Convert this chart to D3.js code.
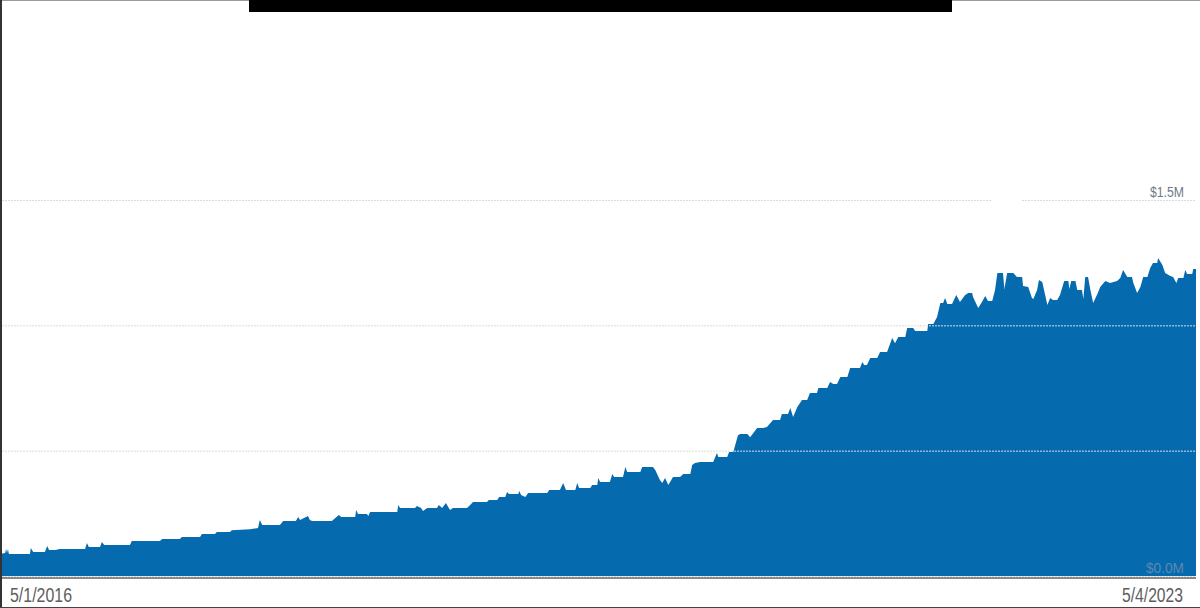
<!DOCTYPE html>
<html><head><meta charset="utf-8">
<script src="https://cdn.jsdelivr.net/npm/d3@7"></script>
<style>html,body{margin:0;padding:0;background:#fff;overflow:hidden}svg{display:block}</style>
</head><body>
<svg id="chart" width="1200" height="608"></svg>
<script>
// Days since 5/1/2016
const dayOffsets = [0,11,13,15,17,19,64,66,71,96,101,105,118,128,182,186,190,214,218,223,278,282,342,347,385,389,428,432,460,464,492,496,535,552,556,561,599,606,633,638,642,659,663,668,710,715,725,730,760,762,766,785,788,792,850,852,856,888,892,901,905,914,935,939,946,954,963,969,999,1004,1012,1042,1046,1064,1068,1081,1085,1089,1109,1111,1115,1124,1130,1171,1175,1198,1205,1211,1231,1235,1239,1263,1267,1278,1280,1284,1305,1310,1314,1333,1338,1342,1370,1374,1397,1402,1412,1417,1423,1430,1440,1455,1462,1477,1481,1487,1498,1526,1534,1537,1556,1560,1569,1579,1584,1599,1605,1620,1633,1641,1654,1669,1673,1686,1691,1697,1706,1716,1727,1733,1748,1751,1770,1776,1783,1791,1798,1813,1819,1840,1845,1849,1855,1862,1877,1883,1898,1909,1915,1922,1937,1941,1954,1958,1984,1986,1997,2005,2012,2018,2022,2027,2037,2046,2054,2065,2072,2080,2082,2093,2101,2108,2114,2123,2129,2134,2146,2149,2155,2168,2176,2187,2189,2200,2208,2211,2219,2223,2230,2241,2247,2253,2262,2268,2277,2286,2288,2292,2301,2305,2315,2318,2322,2328,2333,2339,2348,2354,2365,2375,2390,2397,2403,2412,2422,2425,2433,2440,2446,2455,2461,2467,2476,2478,2487,2493,2504,2510,2517,2521,2532,2536,2540,2551,2553,2559];
// Value in $ thousands
const valuesK = [88,92,108,92,108,88,88,112,96,96,120,104,104,108,108,132,116,116,136,124,124,140,140,148,148,156,156,168,168,176,176,183,187,191,223,203,203,219,219,235,223,239,223,219,219,227,243,235,235,263,247,247,239,255,255,283,271,271,279,271,259,271,271,283,271,291,263,271,271,279,295,295,303,303,315,315,335,327,327,339,323,315,331,331,343,343,371,343,343,371,351,351,363,363,391,375,375,407,395,395,435,415,415,435,435,423,383,371,391,363,395,395,407,407,443,451,455,455,491,475,475,495,495,562,566,566,554,590,590,594,622,622,646,646,670,634,674,702,702,730,730,750,750,774,766,766,794,794,830,830,854,842,842,870,870,894,894,949,929,953,953,989,989,977,977,1005,1005,1033,1089,1089,1109,1085,1085,1121,1093,1121,1129,1129,1113,1069,1093,1117,1097,1097,1141,1209,1209,1145,1209,1209,1193,1193,1157,1153,1109,1105,1141,1181,1173,1081,1109,1101,1101,1121,1177,1177,1145,1177,1177,1141,1141,1105,1193,1193,1141,1089,1125,1153,1177,1169,1177,1189,1221,1193,1193,1169,1129,1153,1193,1193,1229,1249,1249,1269,1241,1209,1197,1193,1169,1189,1189,1221,1205,1205,1225,1225];
const yTicks = [0, 500, 1000, 1500];
const yTickLabels = {0: "$0.0M", 1500: "$1.5M"};
const startLabel = "5/1/2016";
const endLabel = "5/4/2023";

const startDate = new Date(2016, 4, 1);
const endDate = new Date(2023, 4, 4);
const data = dayOffsets.map((d, i) => ({date: d3.timeDay.offset(startDate, d), v: valuesK[i]}));

const svg = d3.select("#chart");
const x = d3.scaleTime().domain([startDate, endDate]).range([0, 1196]);
const y = d3.scaleLinear().domain([0, 1500]).range([576, 200]);
const FONT = "'Liberation Sans',Arial,sans-serif";

// Area
const area = d3.area().x(d => x(d.date)).y0(y(0)).y1(d => y(d.v)).curve(d3.curveLinear);
svg.append("path").datum(data).attr("d", area).attr("fill", "#066aaf");

// Gridlines
svg.append("g").selectAll("line").data(yTicks).join("line")
  .attr("x1", 2).attr("x2", 1196)
  .attr("y1", d => y(d) + 0.5).attr("y2", d => y(d) + 0.5)
  .attr("stroke", "#d9dcdf").attr("stroke-width", 1).attr("stroke-dasharray", "2,1");

// gap in top gridline
svg.append("rect").attr("x", 991).attr("y", y(1500) - 5).attr("width", 30).attr("height", 10).attr("fill", "#fff");

// Y labels
svg.append("g").selectAll("text").data(yTicks.filter(t => yTickLabels[t])).join("text")
  .attr("x", 1184).attr("y", d => y(d) - 3)
  .attr("text-anchor", "end")
  .attr("font-family", FONT)
  .attr("font-size", 14)
  .attr("textLength", d => d === 0 ? 38 : 34)
  .attr("lengthAdjust", "spacingAndGlyphs")
  .attr("fill", d => d === 0 ? "#5f88b0" : "#6f7a85")
  .text(d => yTickLabels[d]);

// baseline axis
svg.append("line").attr("x1", 0).attr("x2", 1196).attr("y1", 578).attr("y2", 578)
  .attr("stroke", "#8a8a8a").attr("stroke-width", 2);

// X labels
const xl = svg.append("g").attr("font-family", FONT)
  .attr("font-size", 20).attr("fill", "#5e5e5e");
xl.append("text").attr("x", x(startDate) + 10).attr("y", 602)
  .attr("textLength", 62).attr("lengthAdjust", "spacingAndGlyphs").text(startLabel);
xl.append("text").attr("x", x(endDate) - 13).attr("y", 602).attr("text-anchor", "end")
  .attr("textLength", 61).attr("lengthAdjust", "spacingAndGlyphs").text(endLabel);

// Frame
svg.append("line").attr("x1", 0).attr("x2", 1200).attr("y1", 0.5).attr("y2", 0.5).attr("stroke", "#9a9a9a");
svg.append("line").attr("x1", 1).attr("x2", 1).attr("y1", 0).attr("y2", 608).attr("stroke", "#333").attr("stroke-width", 2);
svg.append("line").attr("x1", 0).attr("x2", 1200).attr("y1", 607.5).attr("y2", 607.5).attr("stroke", "#444").attr("stroke-width", 1);
svg.append("rect").attr("x", 249).attr("y", 0).attr("width", 703).attr("height", 12).attr("fill", "#000");
</script>
</body></html>
